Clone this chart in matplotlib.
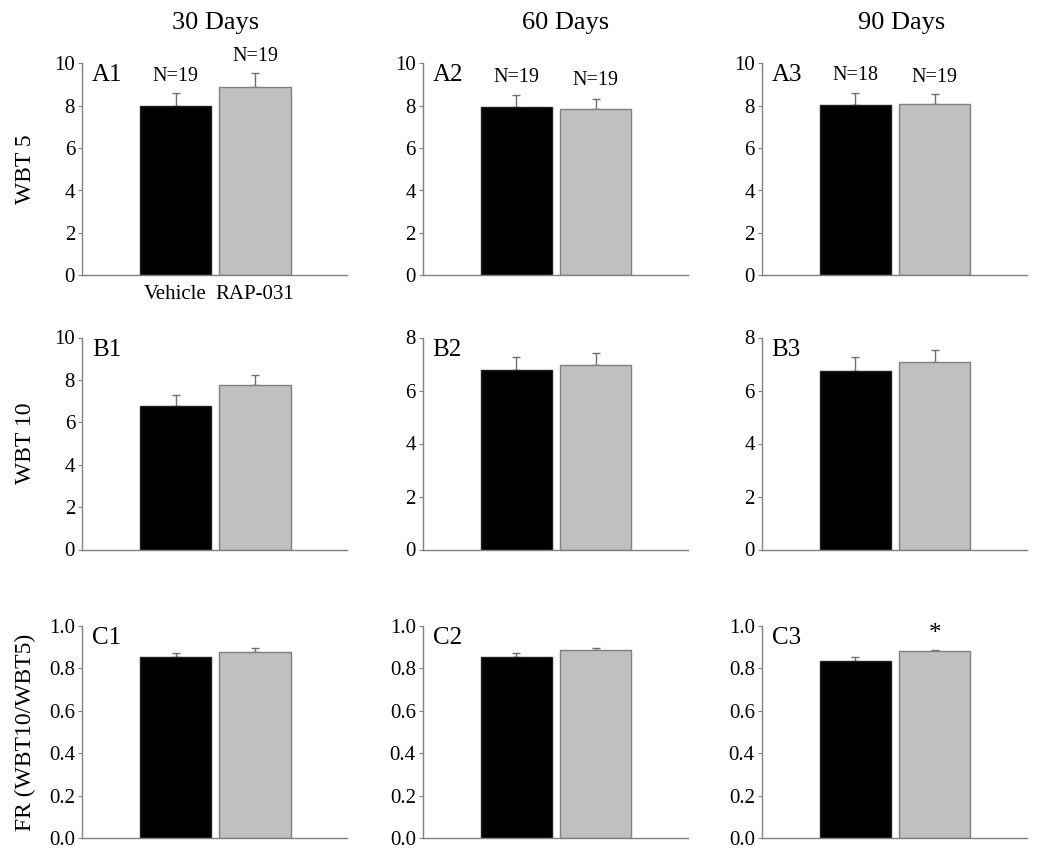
import matplotlib
matplotlib.use("Agg")
import matplotlib.pyplot as plt

plt.rcParams['font.family'] = ['Liberation Serif', 'DejaVu Serif']

groups = ["Vehicle", "RAP-031"]
timepoints = ["30 Days", "60 Days", "90 Days"]
row_labels = ["WBT 5", "WBT 10", "FR (WBT10/WBT5)"]
panel_ids = [["A1", "A2", "A3"], ["B1", "B2", "B3"], ["C1", "C2", "C3"]]

# means [row][col] -> [vehicle, rap]
wbt5_mean = [[7.98, 8.90], [7.93, 7.83], [8.03, 8.09]]
wbt5_sem = [[0.61, 0.63], [0.58, 0.49], [0.59, 0.45]]
wbt10_mean = [[6.78, 7.75], [6.78, 6.95], [6.72, 7.08]]
wbt10_sem = [[0.49, 0.50], [0.49, 0.48], [0.55, 0.44]]
fr_mean = [[0.855, 0.876], [0.852, 0.887], [0.836, 0.880]]
fr_sem = [[0.016, 0.020], [0.019, 0.010], [0.018, 0.008]]
n_labels = [["N=19", "N=19"], ["N=19", "N=19"], ["N=18", "N=19"]]
significant = [[False, False], [False, False], [False, True]]

means = [wbt5_mean, wbt10_mean, fr_mean]
sems = [wbt5_sem, wbt10_sem, fr_sem]
ymax = [[10, 10, 10], [10, 8, 8], [1.0, 1.0, 1.0]]
ystep = [[2, 2, 2], [2, 2, 2], [0.2, 0.2, 0.2]]

W, H = 1050, 865
fig = plt.figure(figsize=(W / 100, H / 100), dpi=100)

col_left = [82, 422.7, 761.7]
ax_w = 265
row_top = [63.3, 337.5, 626]
ax_h = 212

bar_colors = ["black", "#c0c0c0"]
edge_colors = ["#202020", "#808080"]
axis_gray = "#808080"
title_x = [216, 566, 902]

for c, t in enumerate(timepoints):
    fig.text(title_x[c] / W, 1 - 23 / H, t, ha="center", va="center", fontsize=19)

for r in range(3):
    for c in range(3):
        left = col_left[c] / W
        bottom = 1 - (row_top[r] + ax_h) / H
        ax = fig.add_axes([left, bottom, ax_w / W, ax_h / H])
        m = means[r][c]
        s = sems[r][c]
        xs = [0, 1]
        ax.bar(xs, m, width=0.9, color=bar_colors, edgecolor=edge_colors,
               linewidth=1.0, zorder=2)
        ax.errorbar(xs, m, yerr=[[0, 0], s], fmt="none", ecolor="#707070",
                    elinewidth=1.0, capsize=3, capthick=1.0, zorder=1)
        ax.set_xlim(-1.18, 2.16)
        ax.set_ylim(0, ymax[r][c])
        nt = int(round(ymax[r][c] / ystep[r][c]))
        ticks = [i * ystep[r][c] for i in range(nt + 1)]
        ax.set_yticks(ticks)
        if r == 2:
            ax.set_yticklabels([f"{v:.1f}" for v in ticks])
        else:
            ax.set_yticklabels([f"{int(round(v))}" for v in ticks])
        for sp in ["top", "right"]:
            ax.spines[sp].set_visible(False)
        for sp in ["left", "bottom"]:
            ax.spines[sp].set_color(axis_gray)
            ax.spines[sp].set_linewidth(1.0)
        ax.tick_params(axis="y", direction="out", length=3, width=0.8,
                       color=axis_gray, labelsize=15, pad=2)
        if r == 0 and c == 0:
            ax.set_xticks(xs)
            ax.set_xticklabels(groups, fontsize=15)
            ax.tick_params(axis="x", length=0, pad=7)
        else:
            ax.set_xticks([])
        ax.text(0.037, 0.995, panel_ids[r][c], transform=ax.transAxes,
                ha="left", va="top", fontsize=18)
        if r == 0:
            for i in range(2):
                y = max(9.2, m[i] + s[i] + 0.8)
                ax.text(xs[i], y, n_labels[c][i], ha="center", va="center",
                        fontsize=14.5, clip_on=False)
        if r == 2:
            for i in range(2):
                if significant[c][i]:
                    ax.text(xs[i], m[i] + s[i] + 0.075, "*", ha="center",
                            va="center", fontsize=18)
        if c == 0:
            ax.set_ylabel(row_labels[r], fontsize=17)
            ax.yaxis.set_label_coords(-46 / ax_w, 0.5)

fig.savefig("out.png", dpi=100)
